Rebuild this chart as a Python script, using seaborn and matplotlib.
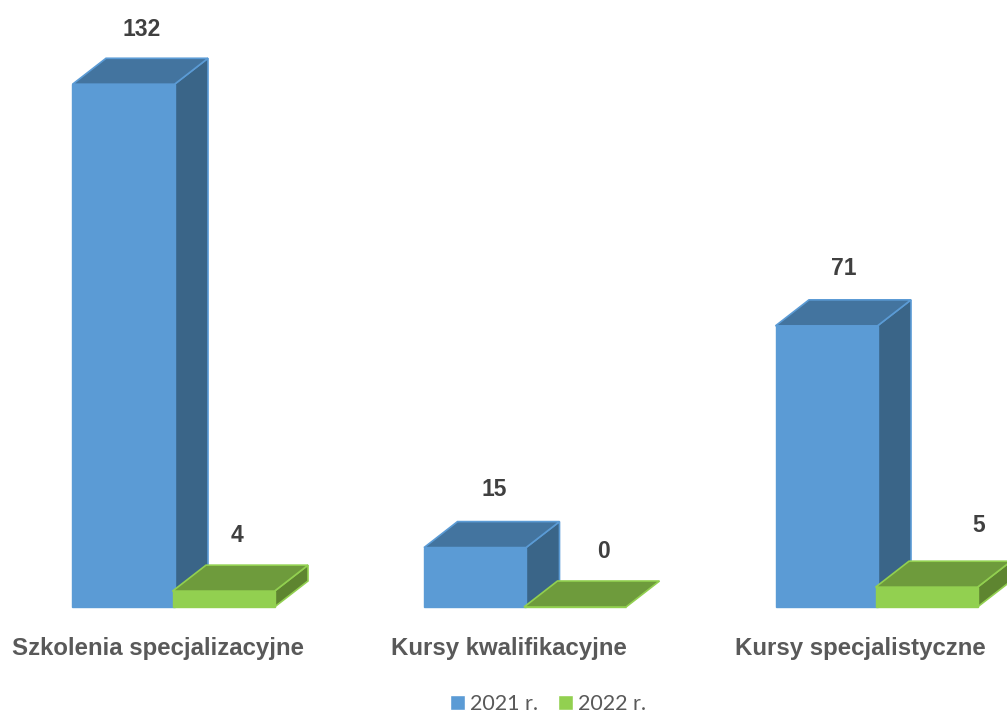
# plot.py
import matplotlib.pyplot as plt
import pandas as pd
import seaborn as sns
from matplotlib.patches import Polygon
from matplotlib.transforms import ScaledTranslation

categories = ['Szkolenia specjalizacyjne', 'Kursy kwalifikacyjne', 'Kursy specjalistyczne']
values_2021 = [132, 15, 71]
values_2022 = [4, 0, 5]
series_names = ['2021 r.', '2022 r.']

W, H = 1007, 713
BASE_Y = 607          # pixel row of the value 0
PX_PER_CAT = 351.5
PX_PER_UNIT = 3.96
CAT0_X = 173.5
DEPTH_X = 33.5 / PX_PER_CAT
DEPTH_Y = 26 / PX_PER_UNIT

front = {'2021 r.': '#5B9BD5', '2022 r.': '#92D050'}
top = {'2021 r.': '#43749F', '2022 r.': '#6E9B3C'}
side = {'2021 r.': '#3A6588', '2022 r.': '#5E8530'}

# hand placement of the value labels, pixels from the default spot
label_nudge = {
    '2021 r.': [(1, 1), (2, -2), (1, -1)],
    '2022 r.': [(-3, 0), (12, 0), (35, -6)],
}

df = pd.DataFrame({
    'cat': categories * 2,
    'year': [series_names[0]] * 3 + [series_names[1]] * 3,
    'value': values_2021 + values_2022,
})

sns.set_style('white')
fig = plt.figure(figsize=(W / 100, H / 100), dpi=100)
ax = fig.add_axes([0, (H - BASE_Y) / H, 1, BASE_Y / H])

sns.barplot(data=df, x='cat', y='value', hue='year', palette=front, hue_order=series_names,
            width=200 / PX_PER_CAT, gap=-0.02, saturation=1, errorbar=None, ax=ax)

ax.set_xlim(-CAT0_X / PX_PER_CAT, (W - CAT0_X) / PX_PER_CAT)
ax.set_ylim(0, BASE_Y / PX_PER_UNIT)
ax.set_xlabel('')
ax.set_ylabel('')
ax.set_yticks([])
sns.despine(ax=ax, left=True, bottom=True)

# extrude every bar into a box, labels go above the back edge
for i, (container, name) in enumerate(zip(ax.containers, series_names)):
    for j, (bar, val) in enumerate(zip(container, container.datavalues)):
        x0, x1 = bar.get_x(), bar.get_x() + bar.get_width()
        h = bar.get_height()
        bar.set_edgecolor(front[name])
        bar.set_linewidth(1)
        bar.set_zorder(3 + i * 2)
        bar.set_clip_on(False)
        z = 2 + i * 2
        if h > 0:
            ax.add_patch(Polygon([(x1, 0), (x1 + DEPTH_X, DEPTH_Y), (x1 + DEPTH_X, h + DEPTH_Y), (x1, h)],
                                 facecolor=side[name], edgecolor=front[name], lw=1.2, zorder=z, clip_on=False))
        ax.add_patch(Polygon([(x0, h), (x0 + DEPTH_X, h + DEPTH_Y), (x1 + DEPTH_X, h + DEPTH_Y), (x1, h)],
                             facecolor=top[name], edgecolor=front[name], lw=1.2, zorder=z, clip_on=False))
        nx, ny = label_nudge[name][j]
        ax.annotate(f'{val:.0f}', ((x0 + x1) / 2 + DEPTH_X / 2, h + DEPTH_Y),
                    xytext=(nx * 0.72, (30 - ny) * 0.72), textcoords='offset points',
                    ha='center', va='center', fontsize=16.5, fontweight='bold',
                    family='Liberation Sans', color='#404040', annotation_clip=False)

ax.set_xticks(range(len(categories)))
ax.set_xticklabels(categories, fontsize=17.3, fontweight='bold', family='Liberation Sans', color='#595959')
ax.tick_params(axis='x', length=0, pad=21.5)
shift = ScaledTranslation(-16 / 100, 0, fig.dpi_scale_trans)
for label in ax.get_xticklabels():
    label.set_transform(label.get_transform() + shift)

sns.move_legend(ax, 'center', bbox_to_anchor=(548 / W, 1 - 704 / H), bbox_transform=fig.transFigure,
                ncol=2, frameon=False, title=None, handlelength=0.7, handleheight=0.7,
                handletextpad=0.25, columnspacing=0.9, labelcolor='#595959',
                prop={'family': 'Lato', 'size': 15.5})

fig.savefig('out.png', dpi=100)
